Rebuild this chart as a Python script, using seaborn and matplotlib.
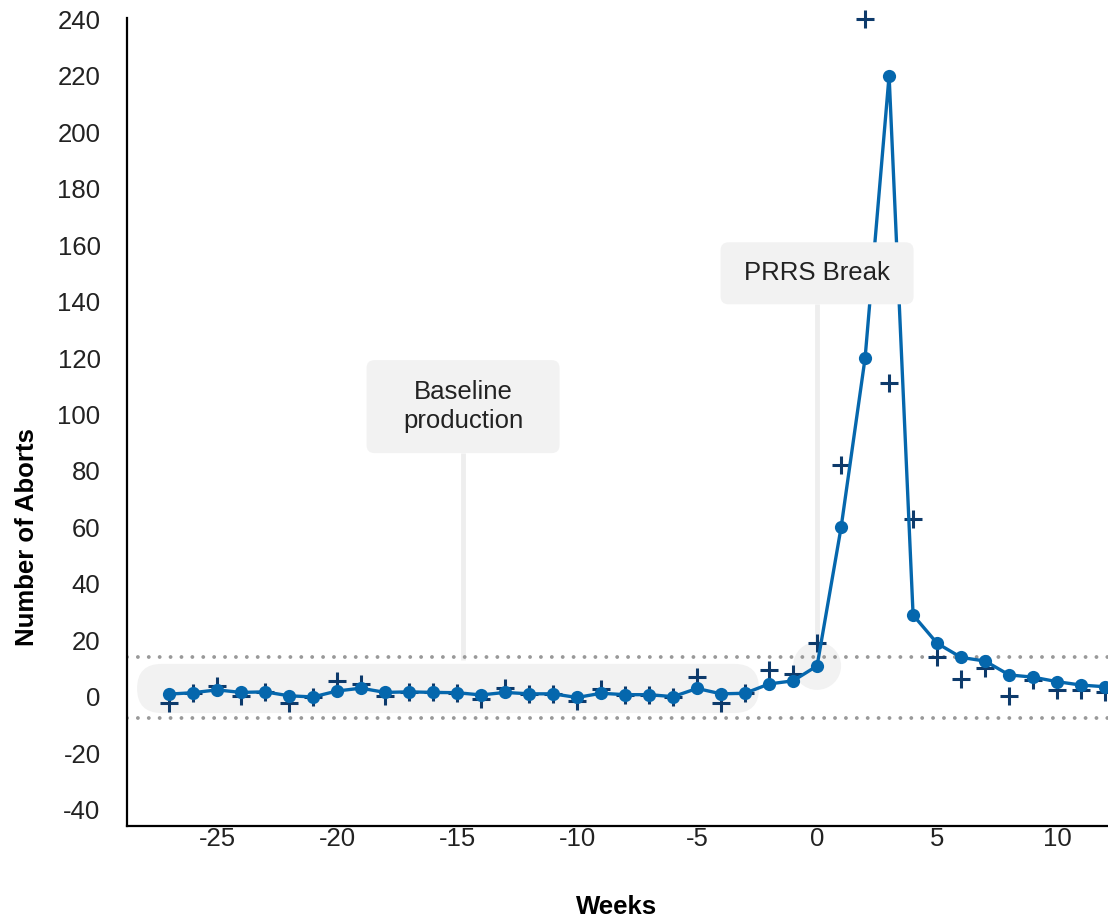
import matplotlib
matplotlib.use("Agg")
import matplotlib.pyplot as plt
from matplotlib.patches import FancyBboxPatch, Ellipse
from matplotlib.transforms import IdentityTransform
import seaborn as sns
import pandas as pd

# === Data ===
weeks = list(range(-27, 13))
smoothed_aborts = [1, 1.5, 2.5, 1.6, 1.8, 0.4, 0, 2.1, 3.1, 1.6,
                   1.8, 1.6, 1.5, 0.7, 1.6, 1.1, 1.1, -0.2, 1.3, 0.8,
                   0.8, 0.1, 3, 1.1, 1.3, 4.6, 5.7, 11, 60, 120,
                   220, 29, 19, 14, 12.7, 7.8, 7, 5.4, 4.2, 3.6]
weekly_aborts = [-2, 1.5, 4, 0.5, 1.8, -2, 0, 5.7, 4.7, 0.5,
                 1.8, 1.6, 1.5, -0.8, 3, 1.1, 1.1, -1.4, 2.8, 0.8,
                 0.8, 0.1, 7, -2.2, 1.3, 9.6, 8, 19, 82, 240,
                 111, 63, 14, 6.4, 10.4, 0.4, 6, 2.5, 2.5, 1.9]
upper_limit = 14
lower_limit = -7.5
x_ticks = [-25, -20, -15, -10, -5, 0, 5, 10]
y_ticks = list(range(-40, 241, 20))

df = pd.DataFrame({"week": weeks, "smoothed": smoothed_aborts, "actual": weekly_aborts})

# === Style ===
sns.set_style("white")
plt.rcParams["font.family"] = ["Liberation Sans", "DejaVu Sans"]
plt.rcParams["axes.unicode_minus"] = False

LINE = "#0567ad"
PLUS = "#0d3a6b"
HIGHLIGHT = "#f2f2f2"
TEXT = "#222222"

W, H = 1108, 922
fig = plt.figure(figsize=(W / 100, H / 100), dpi=100)
ax = fig.add_axes([127 / W, 1 - 826 / H, 1 - 127 / W, (826 - 18) / H])
ax.set_xlim(-28.75, 12.12)
ax.set_ylim(-45.7, 240.4)

to_px = ax.transData.transform

# baseline highlight band (pill shape)
(x0, y0), (x1, y1) = to_px((-28.33, -5.7)), to_px((-2.42, 11.7))
ax.add_patch(FancyBboxPatch((x0, y0), x1 - x0, y1 - y0,
                            boxstyle=f"round,pad=0,rounding_size={(y1 - y0) / 2}",
                            fc=HIGHLIGHT, ec="none", transform=IdentityTransform(), zorder=1))
# break highlight circle
cx, cy = to_px((0, 11))
ax.add_patch(Ellipse((cx, cy), 48, 48, fc=HIGHLIGHT, ec="none",
                     transform=IdentityTransform(), zorder=1))

# control limits
for lim in (upper_limit, lower_limit):
    ax.axhline(lim, color="#999999", lw=2.8, linestyle=(0, (0.001, 2.8)),
               dash_capstyle="round", zorder=1.5)

# annotation leaders
ax.plot([-14.75, -14.75], [86.4, 13], color="#eeeeee", lw=3.5, zorder=1.2, solid_capstyle="butt")
ax.plot([0, 0], [139, 19.5], color="#eeeeee", lw=3.5, zorder=1.2, solid_capstyle="butt")

# data
sns.scatterplot(data=df, x="week", y="actual", marker="+", s=150, color=PLUS,
                linewidth=2.2, ax=ax, zorder=3, clip_on=False)
sns.lineplot(data=df, x="week", y="smoothed", color=LINE, lw=2.4, marker="o",
             markersize=9.5, markeredgewidth=0, ax=ax, zorder=4, clip_on=False)

# annotation boxes
def note(xd, yd, w, h, label):
    px, py = to_px((xd, yd))
    ax.add_patch(FancyBboxPatch((px - w / 2, py - h / 2), w, h,
                                boxstyle="round,pad=0,rounding_size=8",
                                fc=HIGHLIGHT, ec="none", transform=IdentityTransform(),
                                zorder=5))
    ax.text(xd, yd, label, ha="center", va="center", fontsize=18.5, color=TEXT,
            linespacing=1.25, zorder=6)

note(-14.75, 102.8, 193, 93, "Baseline\nproduction")
note(0, 150, 193, 62, "PRRS Break")

# axes
ax.set_xticks(x_ticks)
ax.set_yticks(y_ticks)
ax.tick_params(axis="y", length=0, pad=19, labelsize=18.5, labelcolor=TEXT)
ax.tick_params(axis="x", length=0, pad=1, labelsize=18.5, labelcolor=TEXT)
sns.despine(ax=ax)
for side in ("left", "bottom"):
    ax.spines[side].set_linewidth(1.6)
    ax.spines[side].set_color("black")
ax.set_xlabel("Weeks", fontsize=18.5, fontweight="bold", color="black")
ax.set_ylabel("Number of Aborts", fontsize=18.5, fontweight="bold", color="black")
ax.xaxis.set_label_coords(0.4995, -0.086)
ax.yaxis.set_label_coords(-0.0897, 0.358)

fig.savefig("out.png", dpi=100)
